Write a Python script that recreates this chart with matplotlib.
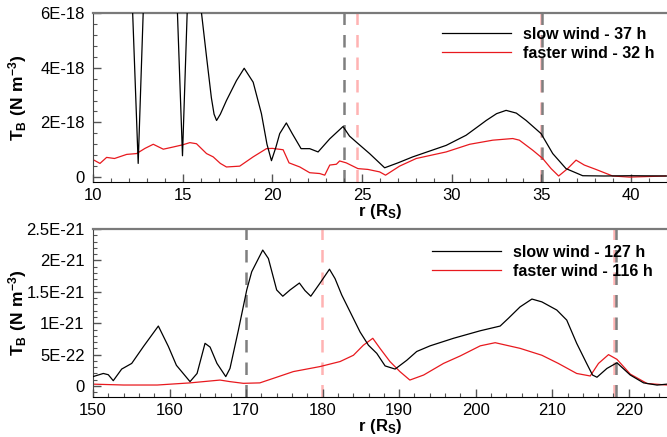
import numpy as np
import matplotlib
matplotlib.use("Agg")
import matplotlib.pyplot as plt
from matplotlib.ticker import MultipleLocator

plt.rcParams["font.family"] = ["Liberation Sans", "DejaVu Sans"]
plt.rcParams["mathtext.fontset"] = "custom"
plt.rcParams["mathtext.bf"] = "Liberation Sans:bold"
plt.rcParams["mathtext.rm"] = "Liberation Sans"

# ---- upper panel: T_B in units of 1E-18 N m^-3 ----
r_slow_a = [10.0, 11.0, 12.1, 12.52, 12.9, 13.8, 14.6, 14.99, 15.35, 15.8, 16.05, 16.33,
            16.6, 16.75, 16.89, 17.1, 17.44, 18.0, 18.43, 18.93, 19.39, 19.7, 19.95,
            20.2, 20.41, 20.78, 21.1, 21.6, 22.08, 22.55, 23.2, 23.94, 24.3, 24.68,
            25.42, 26.26, 27.0, 27.83, 29.69, 30.8, 31.55, 31.92, 32.5, 33.03, 33.6,
            34.15, 34.98, 35.63, 36.37, 37.3, 38.5, 40.0, 42.0]
tb_slow_a = [9.0, 9.5, 8.0, 0.5, 8.0, 9.0, 8.0, 0.78, 8.0, 8.5, 6.0, 4.4,
             2.9, 2.3, 2.07, 2.3, 2.8, 3.53, 3.98, 3.47, 2.32, 1.2, 0.6,
             1.1, 1.59, 1.98, 1.6, 1.04, 1.04, 0.92, 1.4, 1.85, 1.5, 1.28,
             0.86, 0.34, 0.52, 0.74, 1.16, 1.53, 1.89, 2.07, 2.32, 2.44, 2.34,
             2.07, 1.59, 0.86, 0.31, 0.05, 0.04, 0.05, 0.04]

r_fast_a = [10.0, 10.39, 10.76, 11.2, 11.88, 12.43, 12.9, 13.36, 13.92, 14.47, 15.0,
            15.4, 15.77, 16.33, 16.7, 17.1, 17.44, 18.18, 18.93, 19.67, 20.0, 20.6,
            20.93, 21.53, 22.08, 22.64, 22.92, 23.2, 23.57, 23.75, 24.12, 24.77,
            25.33, 25.98, 26.31, 27.09, 28.02, 29.69, 31.0, 32.29, 33.4, 33.77,
            34.52, 35.07, 35.54, 35.96, 36.46, 36.93, 37.39, 38.04, 38.97, 39.9, 41.94]
tb_fast_a = [0.64, 0.5, 0.72, 0.68, 0.83, 0.86, 1.05, 1.2, 1.02, 1.1, 1.18,
             1.26, 1.22, 0.86, 0.74, 0.5, 0.37, 0.4, 0.74, 1.04, 1.05, 1.0,
             0.52, 0.37, 0.16, 0.13, 0.07, 0.44, 0.47, 0.59, 0.52, 0.31,
             0.28, 0.19, 0.07, 0.4, 0.68, 0.92, 1.2, 1.35, 1.41, 1.35,
             0.98, 0.68, 0.31, 0.04, 0.31, 0.62, 0.44, 0.28, 0.04, 0.0, 0.04]

# ---- lower panel: T_B in units of 1E-21 N m^-3 ----
r_slow_b = [150.0, 151.35, 152.0, 152.65, 153.75, 155.06, 156.6, 158.54, 159.85, 160.9,
            162.68, 163.6, 164.64, 165.3, 166.2, 167.35, 167.9, 169.0, 170.09, 170.74,
            172.18, 172.92, 174.0, 174.8, 175.75, 176.97, 177.7, 178.46, 179.67, 180.9,
            181.63, 182.5, 183.6, 184.9, 185.99, 187.08, 188.17, 189.48, 191.0, 192.3,
            194.05, 197.1, 200.6, 203.2, 204.29, 205.8, 207.35, 208.65, 210.6, 211.9,
            213.2, 214.5, 215.27, 215.85, 217.15, 218.46, 220.2, 221.94, 223.7, 225.0]
tb_slow_b = [0.15, 0.2, 0.18, 0.085, 0.27, 0.36, 0.63, 0.955, 0.63, 0.33,
             0.07, 0.2, 0.68, 0.62, 0.36, 0.15, 0.28, 0.89, 1.53, 1.82,
             2.165, 2.03, 1.53, 1.43, 1.53, 1.64, 1.52, 1.43, 1.64, 1.86,
             1.71, 1.45, 1.18, 0.86, 0.65, 0.52, 0.32, 0.27, 0.41, 0.55,
             0.64, 0.76, 0.88, 0.955, 1.08, 1.26, 1.385, 1.34, 1.21, 1.05,
             0.68, 0.36, 0.175, 0.14, 0.28, 0.37, 0.175, 0.05, 0.015, 0.03]

r_fast_b = [150.0, 154.0, 158.4, 162.68, 166.6, 167.9, 169.65, 171.8, 174.0, 176.18,
            179.67, 182.29, 184.03, 185.33, 186.56, 187.5, 188.8, 190.1, 191.4, 193.2,
            195.8, 198.0, 200.6, 202.55, 205.8, 208.65, 210.8, 213.2, 214.97, 216.05,
            217.36, 218.46, 220.2, 222.4, 225.0]
tb_fast_b = [0.03, 0.016, 0.016, 0.05, 0.095, 0.07, 0.043, 0.05, 0.14, 0.23,
             0.31, 0.39, 0.49, 0.65, 0.76, 0.6, 0.39, 0.23, 0.095, 0.175,
             0.36, 0.48, 0.64, 0.69, 0.6, 0.49, 0.36, 0.2, 0.16, 0.36,
             0.5, 0.425, 0.19, 0.04, 0.016]

# reference radii marked with dashed lines
marks_slow_a = [24.0, 35.05]
marks_fast_a = [24.7, 34.95]
marks_slow_b = [170.0, 218.35]
marks_fast_b = [179.9, 218.1]

labels_a = ["slow wind - 37 h", "faster wind - 32 h"]
labels_b = ["slow wind - 127 h", "faster wind - 116 h"]

yticks_a = [0, 2e-18, 4e-18, 6e-18]
ytick_labels_a = ["0", "2E-18", "4E-18", "6E-18"]
yticks_b = [0, 5e-22, 1e-21, 1.5e-21, 2e-21, 2.5e-21]
ytick_labels_b = ["0", "5E-22", "1E-21", "1.5E-21", "2E-21", "2.5E-21"]

RED = "#e8191e"
GRAY = "#7f7f7f"
PINK = "#ffb3b3"

fig = plt.figure(figsize=(6.67, 4.37), dpi=100)
ax1 = fig.add_axes([0.1394, 0.5835, 0.8606, 0.3867])
ax2 = fig.add_axes([0.1394, 0.0915, 0.8606, 0.3844])


def style(ax, xmaj, xmin, ymin_step):
    ax.xaxis.set_major_locator(MultipleLocator(xmaj))
    ax.xaxis.set_minor_locator(MultipleLocator(xmin))
    ax.yaxis.set_minor_locator(MultipleLocator(ymin_step))
    ax.tick_params(which="both", direction="in", top=False, right=False,
                   colors="#555555", labelcolor="black", labelsize=12)
    ax.tick_params(which="major", length=6, width=1, pad=6)
    ax.tick_params(axis="x", which="major", pad=4)
    ax.tick_params(which="minor", length=3, width=0.8)
    ax.spines["right"].set_visible(False)
    ax.spines["top"].set_color("#7a7a7a")
    ax.spines["top"].set_linewidth(1.6)
    ax.spines["left"].set_color("#444444")
    ax.spines["bottom"].set_color("black")
    ax.set_ylabel(r"$\mathbf{T_B\ (N\ m^{-3})}$", fontsize=12.5)
    ax.yaxis.set_label_coords(-0.112, 0.5)
    ax.set_xlabel(r"$\mathbf{r\ (R_S)}$", fontsize=12, labelpad=-0.5)


def panel(ax, r_s, tb_s, r_f, tb_f, scale, m_s, m_f, labels, anchor):
    for x in m_f:
        ax.axvline(x, color=PINK, lw=1.8, dashes=(5, 4), zorder=1)
    for x in m_s:
        ax.axvline(x, color=GRAY, lw=1.8, dashes=(5, 4), zorder=1)
    ax.plot(r_s, np.array(tb_s) * scale, color="black", lw=0.9,
            label=labels[0], zorder=3)
    ax.plot(r_f, np.array(tb_f) * scale, color=RED, lw=0.9,
            label=labels[1], zorder=2)
    leg = ax.legend(loc="upper left", bbox_to_anchor=anchor,
                    bbox_transform=fig.transFigure, frameon=False,
                    handlelength=4.3, handletextpad=0.8, borderpad=0,
                    labelspacing=0.25, prop={"weight": "bold", "size": 11.5})
    return leg


panel(ax1, r_slow_a, tb_slow_a, r_fast_a, tb_fast_a, 1e-18,
      marks_slow_a, marks_fast_a, labels_a, (434 / 667, 1 - 19 / 437))
ax1.set_xlim(10, 42)
ax1.set_ylim(-0.18e-18, 6e-18)
ax1.set_yticks(yticks_a)
ax1.set_yticklabels(ytick_labels_a)
style(ax1, 5, 1, 0.4e-18)

panel(ax2, r_slow_b, tb_slow_b, r_fast_b, tb_fast_b, 1e-21,
      marks_slow_b, marks_fast_b, labels_b, (424 / 667, 1 - 237 / 437))
ax2.set_xlim(150, 225)
ax2.set_ylim(-0.175e-21, 2.5e-21)
ax2.set_yticks(yticks_b)
ax2.set_yticklabels(ytick_labels_b)
style(ax2, 10, 2, 0.1e-21)

fig.savefig("out.png", dpi=100)
plt.close(fig)
